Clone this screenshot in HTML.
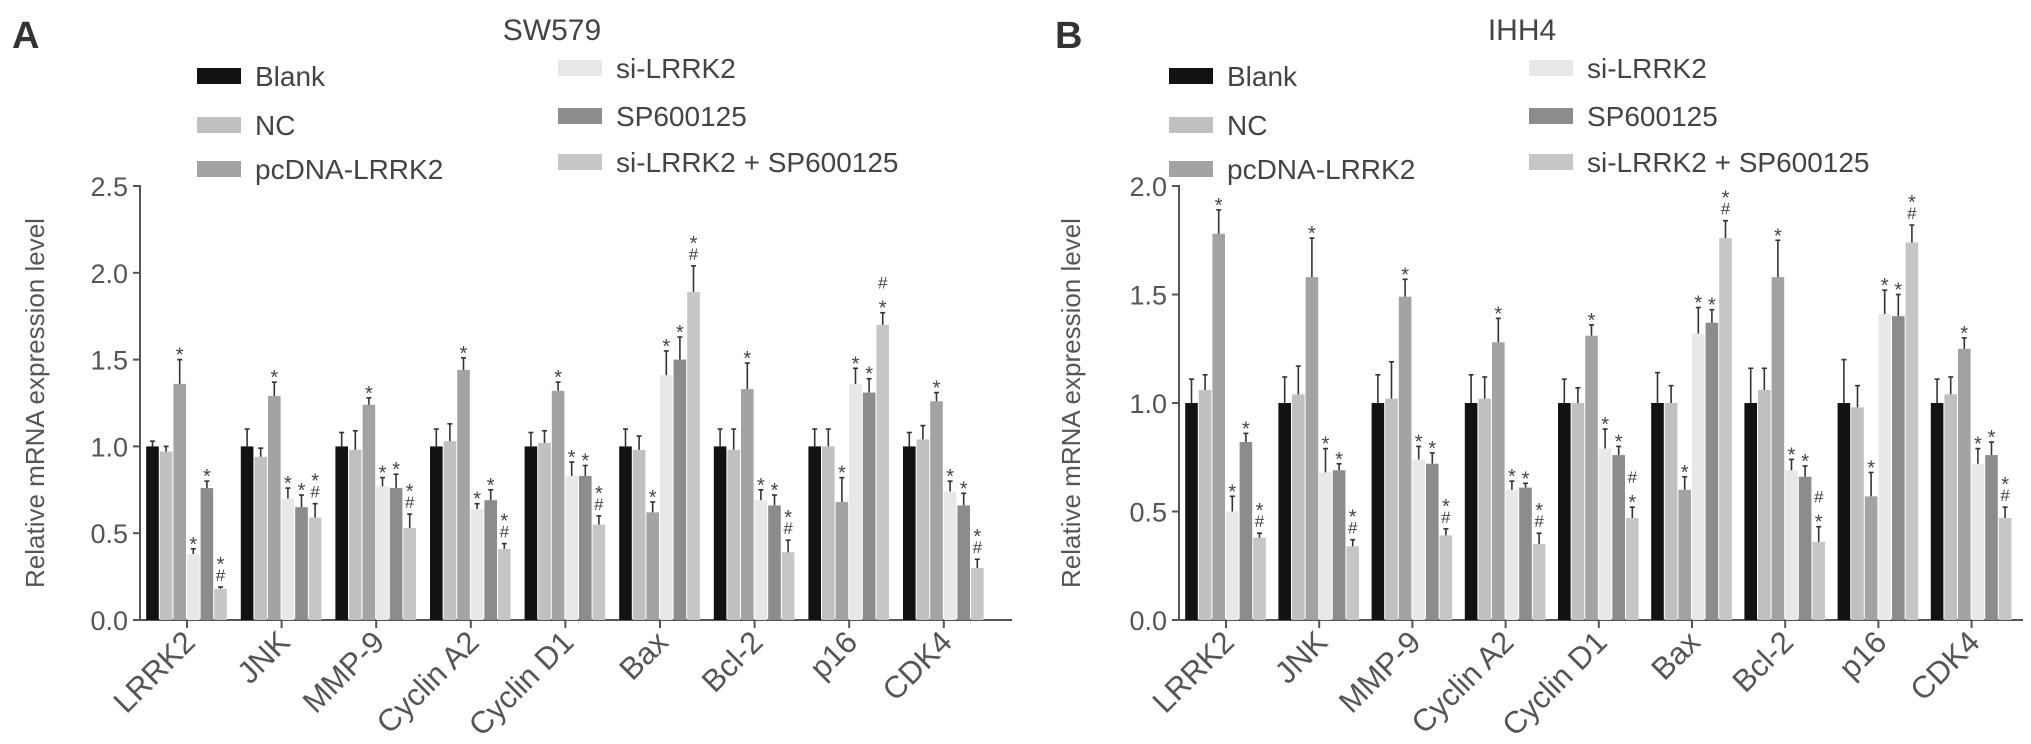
<!DOCTYPE html>
<html><head><meta charset="utf-8">
<style>
html,body{margin:0;padding:0;background:#fff;}
svg{display:block;font-family:"Liberation Sans",Arial,sans-serif;}
</style></head>
<body>
<svg id="chart" width="2031" height="744" viewBox="0 0 2031 744" xmlns="http://www.w3.org/2000/svg"></svg>
<script>
const categories = ["LRRK2","JNK","MMP-9","Cyclin A2","Cyclin D1","Bax","Bcl-2","p16","CDK4"];
const seriesNames = ["Blank","NC","pcDNA-LRRK2","si-LRRK2","SP600125","si-LRRK2 + SP600125"];
const seriesColors = ["#121212","#c0c0c0","#a3a3a3","#e8e8e8","#8c8c8c","#c6c6c6"];

const valuesA = [
 [1.0,0.97,1.36,0.38,0.76,0.18],
 [1.0,0.94,1.29,0.70,0.65,0.59],
 [1.0,0.98,1.24,0.77,0.76,0.53],
 [1.0,1.03,1.44,0.64,0.69,0.41],
 [1.0,1.02,1.32,0.83,0.83,0.55],
 [1.0,0.98,0.62,1.41,1.50,1.89],
 [1.0,0.98,1.33,0.69,0.66,0.39],
 [1.0,1.0,0.68,1.36,1.31,1.70],
 [1.0,1.04,1.26,0.74,0.66,0.30]
];
const errorsA = [
 [.03,.03,.14,.03,.04,.01],
 [.10,.05,.08,.06,.07,.08],
 [.08,.11,.04,.05,.08,.08],
 [.10,.10,.07,.03,.06,.03],
 [.08,.07,.05,.08,.06,.05],
 [.10,.08,.06,.14,.13,.15],
 [.10,.12,.15,.06,.06,.07],
 [.10,.10,.14,.09,.08,.07],
 [.08,.08,.05,.06,.07,.05]
];
const marksA = [
 ["","","*","*","*","*#"],["","","*","*","*","*#"],["","","*","*","*","*#"],
 ["","","*","*","*","*#"],["","","*","*","*","*#"],["","","*","*","*","*#"],
 ["","","*","*","*","*#"],["","","*","*","*","#*"],["","","*","*","*","*#"]
];
const valuesB = [
 [1.0,1.06,1.78,0.50,0.82,0.38],
 [1.0,1.04,1.58,0.68,0.69,0.34],
 [1.0,1.02,1.49,0.74,0.72,0.39],
 [1.0,1.02,1.28,0.60,0.61,0.35],
 [1.0,1.0,1.31,0.79,0.76,0.47],
 [1.0,1.0,0.60,1.32,1.37,1.76],
 [1.0,1.06,1.58,0.69,0.66,0.36],
 [1.0,0.98,0.57,1.41,1.40,1.74],
 [1.0,1.04,1.25,0.72,0.76,0.47]
];
const errorsB = [
 [.11,.07,.11,.07,.04,.02],
 [.12,.13,.18,.11,.03,.03],
 [.13,.17,.08,.06,.05,.03],
 [.13,.10,.11,.04,.02,.05],
 [.11,.07,.05,.09,.04,.05],
 [.14,.08,.06,.12,.06,.08],
 [.16,.10,.17,.05,.05,.07],
 [.20,.10,.11,.11,.10,.08],
 [.11,.08,.05,.07,.06,.05]
];
const marksB = [
 ["","","*","*","*","*#"],["","","*","*","*","*#"],["","","*","*","*","*#"],
 ["","","*","*","*","*#"],["","","*","*","*","#*"],["","","*","*","*","*#"],
 ["","","*","*","*","#*"],["","","*","*","*","*#"],["","","*","*","*","*#"]
];
const ticksA = [0,0.5,1.0,1.5,2.0,2.5];
const ticksB = [0,0.5,1.0,1.5,2.0];

const NS="http://www.w3.org/2000/svg";
const svg=document.getElementById('chart');
function el(tag,attrs,parent,text){
  const e=document.createElementNS(NS,tag);
  for(const k in attrs) e.setAttribute(k,attrs[k]);
  if(text!==undefined) e.textContent=text;
  (parent||svg).appendChild(e);
  return e;
}

function panel(cfg){
  const g=el('g',{});
  
  
  const y0=620, yTop=186;
  const yMax=cfg.ticks[cfg.ticks.length-1];
  const yScale=v=>y0-(v/yMax)*(y0-yTop);
  const xCenter=i=>cfg.firstTick+i*cfg.step;
  const bw=13.6;

  const lab=el('text',{x:cfg.letterX,y:48,'font-size':38,'font-weight':'bold',fill:'#333'},g,cfg.letter);
  
  
  const t=el('text',{x:cfg.titleX,y:40,'font-size':30,'text-anchor':'middle',fill:'#444'},g,cfg.title);
  
  

  seriesNames.forEach((n,i)=>{
    const col=i<3?0:1, row=i%3;
    const sx=col===0?cfg.legX1:cfg.legX2;
    const sy=col===0?[76,125,169][row]:[68,116,162][row];
    const lg=el('g',{},g);
    
    
    el('rect',{x:sx,y:sy-8,width:44,height:16,fill:seriesColors[i]},lg);
    el('text',{x:sx+58,y:sy+10,'font-size':28,fill:'#444'},lg,n);
  });

  const ya=el('line',{x1:cfg.axisX,y1:yTop-1,x2:cfg.axisX,y2:y0,stroke:'#555','stroke-width':2},g);
  
  
  const xa=el('line',{x1:cfg.axisX,y1:y0,x2:cfg.axisEnd,y2:y0,stroke:'#555','stroke-width':2},g);
  
  
  cfg.ticks.forEach(v=>{
    const y=yScale(v);
    el('line',{x1:cfg.axisX-7,y1:y,x2:cfg.axisX,y2:y,stroke:'#555','stroke-width':2},g);
    const tl=el('text',{x:cfg.axisX-12,y:y+10,'font-size':27,'text-anchor':'end',fill:'#555'},g,v.toFixed(1));
    
    
  });
  const yt=el('text',{x:0,y:0,'font-size':26,'text-anchor':'middle',fill:'#555',transform:`translate(${cfg.yTitleX},403) rotate(-90)`},g,'Relative mRNA expression level');
  
  

  categories.forEach((c,ci)=>{
    const cx=xCenter(ci);
    el('line',{x1:cx,y1:y0,x2:cx,y2:y0+8,stroke:'#555','stroke-width':2},g);
    const cl=el('text',{x:0,y:0,'font-size':31,'text-anchor':'end',fill:'#555',transform:`translate(${cx+10},${y0+24}) rotate(-45)`},g,c);
    
    
    cfg.values[ci].forEach((v,si)=>{
      const bx=cx+(si-3)*bw;
      const top=yScale(v);
      const r=el('rect',{x:bx,y:top,width:bw-1,height:y0-top,fill:seriesColors[si]},g);
      
      
      const et=yScale(v+cfg.errors[ci][si]);
      const mx=bx+(bw-1)/2;
      el('line',{x1:mx,y1:top,x2:mx,y2:et,stroke:'#333','stroke-width':1.6},g);
      el('line',{x1:mx-2.5,y1:et,x2:mx+2.5,y2:et,stroke:'#333','stroke-width':1.6},g);
      const m=cfg.marks[ci][si];
      let yy=et-6;
      for(let k=m.length-1;k>=0;k--){
        const ch=m[k];
        const a=el('text',{x:mx,y:ch==='*'?yy+8:yy,'font-size':ch==='*'?20:17,'text-anchor':'middle',fill:'#444'},g,ch);
        
        
        yy-=18;
      }
    });
  });
}

panel({id:'sw579',letter:'A',letterX:12,title:'SW579',titleX:552,legX1:197,legX2:558,
  axisX:140,axisEnd:1012,firstTick:187,step:94.6,ticks:ticksA,values:valuesA,errors:errorsA,marks:marksA,yTitleX:44});
panel({id:'ihh4',letter:'B',letterX:1055,title:'IHH4',titleX:1522,legX1:1169,legX2:1529,
  axisX:1179,axisEnd:2023,firstTick:1226,step:93.2,ticks:ticksB,values:valuesB,errors:errorsB,marks:marksB,yTitleX:1080});
</script>
</body></html>
